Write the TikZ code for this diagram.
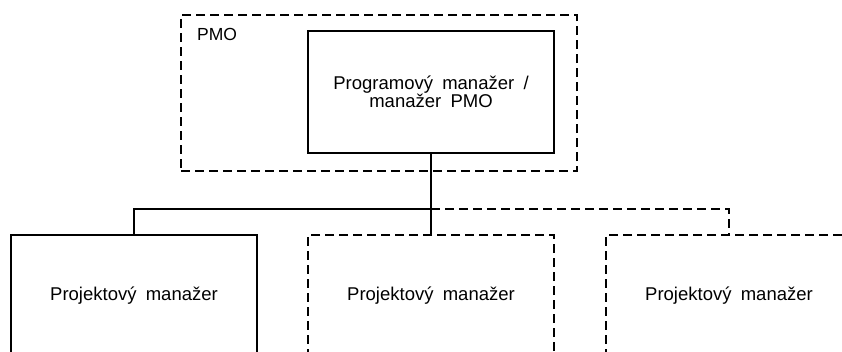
\documentclass[tikz,border=0pt]{standalone}
\usepackage{fontspec}
\setmainfont{Liberation Sans}[WordSpace=1.8]
\begin{document}
\begin{tikzpicture}[x=1pt,y=-1pt,
  box/.style={draw=black, line width=1.6pt, minimum width=246pt, minimum height=122pt, inner sep=0pt, align=center,
    font=\fontsize{18.5}{18}\selectfont},
  dbox/.style={box, dash pattern=on 9pt off 5pt},
  link/.style={draw=black, line width=1.6pt},
  dlink/.style={link, dash pattern=on 9pt off 5pt},
  lbl/.style={font=\fontsize{17.5}{18}\selectfont, inner sep=0pt}]
\useasboundingbox (0,0) rectangle (842,351);
\clip (0,0) rectangle (842,351);
\node[dbox, minimum width=396pt, minimum height=156pt] (pmo) at (379,93) {};
\node[lbl, anchor=base west] (pmolbl) at (197,40) {PMO};
\node[box] (prog) at (431,92) {Programový manažer /\\manažer PMO};
\node[box] (p1) at (134,296) {Projektový manažer};
\node[dbox] (p2) at (431,296) {Projektový manažer};
\node[dbox] (p3) at (729,296) {Projektový manažer};
\coordinate (j) at (431,209);
\draw[link] (prog.south) -- (p2.north);
\draw[link] (j) -| (p1.north);
\draw[dlink] (j) -| (p3.north);
\end{tikzpicture}
\end{document}
